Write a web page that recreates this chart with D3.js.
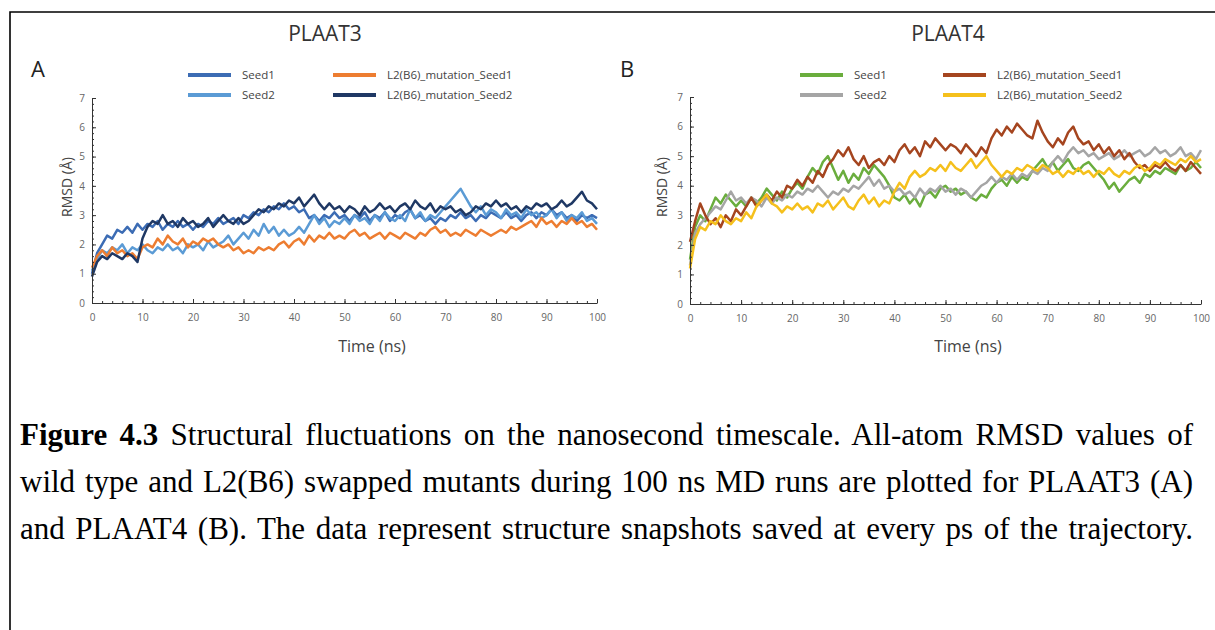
<!DOCTYPE html>
<html>
<head>
<meta charset="utf-8">
<script src="https://cdn.jsdelivr.net/npm/d3@7"></script>
<style>
  html, body { margin: 0; padding: 0; background: #fff; }
  svg { display: block; }
</style>
</head>
<body>
<script>

// Time axis, one sample per ns
const timeNs = d3.range(0, 101);

// PLAAT3 RMSD traces (Å)
const plaat3Seed1 = [
  1.0, 1.7, 2.0, 2.3, 2.2, 2.5, 2.4, 2.6, 2.4, 2.7, 2.5,
  2.7, 2.6, 2.8, 2.5, 2.7, 2.6, 2.8, 2.6, 2.7, 2.5,
  2.7, 2.6, 2.8, 2.7, 2.9, 2.7, 2.8, 2.9, 2.7, 3.0,
  2.9, 3.1, 3.0, 3.2, 3.1, 3.3, 3.2, 3.4, 3.2, 3.3,
  3.1, 3.2, 2.9, 3.0, 2.8, 3.0, 2.9, 3.1, 2.9, 3.0,
  2.8, 3.0, 2.9, 3.1, 2.8, 3.0, 2.9, 3.1, 2.8, 3.0,
  2.9, 3.1, 3.2, 2.9, 3.0, 2.8, 2.9, 2.7, 2.9, 2.8,
  3.0, 2.9, 3.1, 2.9, 3.0, 2.8, 3.0, 2.9, 3.1, 3.0,
  2.9, 3.1, 2.9, 3.0, 2.8, 3.0, 3.1, 2.9, 3.1, 3.0,
  3.2, 3.0, 3.1, 2.9, 3.0, 2.8, 3.0, 2.9, 3.0, 2.9
];
const plaat3Seed2 = [
  1.1, 1.5, 1.8, 1.7, 1.9, 1.8, 2.0, 1.7, 1.9, 1.8, 2.0,
  1.8, 1.7, 1.9, 1.8, 2.0, 1.8, 1.9, 1.7, 2.0, 1.9,
  2.0, 1.8, 2.1, 1.9, 2.0, 2.1, 2.3, 2.0, 2.2, 2.4,
  2.2, 2.5, 2.3, 2.7, 2.4, 2.6, 2.3, 2.5, 2.3, 2.4,
  2.6, 2.4, 2.7, 3.0, 2.7, 2.9, 2.6, 2.8, 2.7, 2.9,
  2.7, 3.0, 2.8, 2.9, 2.7, 3.0, 2.8, 3.1, 2.9, 2.8,
  3.0, 2.8, 3.2, 2.9, 3.1, 2.8, 3.0, 2.9, 3.1, 3.3,
  3.5, 3.7, 3.9, 3.6, 3.3, 3.1, 3.3, 3.0, 3.2, 3.1,
  2.9, 3.2, 3.0, 3.1, 2.9, 3.2, 3.0, 3.1, 2.9, 3.0,
  3.2, 2.9, 3.1, 2.8, 3.0, 2.9, 3.1, 2.8, 2.9, 2.7
];
const plaat3MutSeed1 = [
  1.2, 1.6, 1.8, 1.6, 1.9, 1.7, 1.8, 1.6, 1.7, 1.5, 1.9,
  2.0, 1.9, 2.2, 2.0, 2.3, 2.1, 2.0, 2.2, 1.9, 2.1,
  2.0, 2.2, 2.1, 2.2, 2.0, 1.9, 2.0, 1.8, 1.9, 1.7,
  1.8, 1.7, 1.9, 1.8, 1.9, 1.8, 2.0, 2.1, 1.9, 2.1,
  2.2, 2.0, 2.3, 2.1, 2.3, 2.2, 2.4, 2.2, 2.3, 2.2,
  2.4, 2.5, 2.3, 2.4, 2.2, 2.3, 2.4, 2.2, 2.4, 2.3,
  2.2, 2.4, 2.3, 2.2, 2.4, 2.3, 2.5, 2.6, 2.4, 2.5,
  2.3, 2.4, 2.3, 2.5, 2.4, 2.3, 2.5, 2.4, 2.3, 2.4,
  2.5, 2.4, 2.6, 2.5, 2.6, 2.7, 2.8, 2.6, 2.9, 2.7,
  2.8, 2.6, 2.8, 2.7, 2.9, 2.7, 2.8, 2.6, 2.7, 2.5
];
const plaat3MutSeed2 = [
  0.9, 1.4, 1.6, 1.5, 1.7, 1.6, 1.5, 1.7, 1.6, 1.4, 2.2,
  2.6, 2.8, 2.7, 3.0, 2.7, 2.8, 2.6, 2.9, 2.7, 2.8,
  2.6, 2.7, 2.9, 2.6, 2.8, 3.0, 2.8, 2.7, 2.9, 2.7,
  2.8, 3.0, 3.2, 3.1, 3.3, 3.2, 3.4, 3.3, 3.5, 3.4,
  3.6, 3.3, 3.5, 3.7, 3.4, 3.2, 3.4, 3.2, 3.3, 3.1,
  3.3, 3.2, 3.0, 3.3, 3.1, 3.2, 3.4, 3.2, 3.3, 3.1,
  3.3, 3.4, 3.2, 3.5, 3.3, 3.2, 3.4, 3.1, 3.3, 3.2,
  3.3, 3.1, 3.2, 3.0, 3.1, 3.3, 3.2, 3.4, 3.3, 3.5,
  3.3, 3.4, 3.2, 3.3, 3.1, 3.3, 3.2, 3.4, 3.3, 3.4,
  3.2, 3.3, 3.5, 3.3, 3.4, 3.6, 3.8, 3.5, 3.4, 3.2
];

// PLAAT4 RMSD traces (Å)
const plaat4Seed1 = [
  1.5, 2.6, 3.0, 2.8, 3.2, 3.6, 3.4, 3.7, 3.5, 3.3, 3.5,
  3.3, 3.6, 3.4, 3.6, 3.9, 3.7, 3.5, 3.8, 3.6, 3.9,
  4.1, 3.9, 4.3, 4.6, 4.4, 4.8, 5.0, 4.6, 4.2, 4.5,
  4.1, 4.4, 4.2, 4.6, 4.4, 4.7, 4.5, 4.3, 4.0, 3.6,
  3.5, 3.7, 3.4, 3.6, 3.3, 3.7, 3.8, 3.6, 3.9, 4.0,
  3.8, 3.9, 3.7, 3.8, 3.6, 3.5, 3.7, 3.6, 3.9, 4.1,
  4.2, 4.0, 4.3, 4.1, 4.3, 4.2, 4.5, 4.7, 4.9, 4.6,
  4.8, 4.5, 4.7, 4.9, 4.6, 4.5, 4.7, 4.8, 4.6, 4.4,
  4.2, 3.9, 4.1, 3.8, 4.0, 4.2, 4.3, 4.1, 4.4, 4.3,
  4.5, 4.4, 4.6, 4.5, 4.4, 4.7, 4.5, 4.6, 4.8, 4.6
];
const plaat4Seed2 = [
  1.3, 2.4, 2.7, 2.9, 3.1, 3.3, 3.2, 3.5, 3.8, 3.5, 3.6,
  3.4, 3.6, 3.5, 3.3, 3.6, 3.4, 3.6, 3.5, 3.7, 3.6,
  3.8, 3.7, 3.9, 3.8, 4.0, 3.8, 3.6, 3.8, 3.7, 3.9,
  3.8, 4.0, 3.9, 4.1, 4.3, 4.0, 4.2, 3.9, 4.0, 3.8,
  3.9, 3.7, 3.8, 3.6, 3.9, 3.7, 3.9, 3.8, 4.0, 3.8,
  3.9, 3.7, 3.9, 3.8, 3.6, 3.8, 4.0, 4.1, 4.3, 4.1,
  4.3, 4.2, 4.4, 4.2, 4.4, 4.3, 4.5, 4.4, 4.6, 4.5,
  4.8, 5.0, 4.8, 5.1, 5.3, 5.1, 5.2, 5.0, 5.1, 4.9,
  5.0, 5.1, 4.9, 5.0, 5.2, 5.0, 5.1, 5.2, 5.0, 5.1,
  5.3, 5.1, 5.2, 5.0, 5.1, 5.3, 5.0, 5.1, 4.9, 5.2
];
const plaat4MutSeed1 = [
  2.1, 2.8, 3.4, 3.0, 2.7, 2.9, 2.6, 3.0, 2.8, 3.2, 3.0,
  3.3, 3.6, 3.3, 3.5, 3.7, 3.5, 3.8, 3.6, 4.0, 3.9,
  4.2, 4.0, 4.3, 4.1, 4.5, 4.3, 4.7, 4.9, 5.2, 5.0,
  5.3, 4.9, 4.7, 5.0, 4.6, 4.8, 4.9, 4.7, 5.0, 4.8,
  5.2, 5.4, 5.1, 5.3, 5.0, 5.5, 5.3, 5.6, 5.4, 5.2,
  5.4, 5.3, 5.1, 5.4, 5.2, 5.0, 5.3, 5.1, 5.6, 5.9,
  5.7, 6.0, 5.8, 6.1, 5.9, 5.7, 5.6, 6.2, 5.8, 5.5,
  5.3, 5.6, 5.4, 5.8, 6.0, 5.6, 5.4, 5.5, 5.2, 5.4,
  5.1, 5.3, 5.0, 5.2, 4.9, 5.1, 4.8, 4.6, 4.7, 4.5,
  4.7, 4.6, 4.8, 4.6, 4.5, 4.7, 4.5, 4.8, 4.6, 4.4
];
const plaat4MutSeed2 = [
  1.2, 2.2, 2.6, 2.5, 2.8, 2.7, 3.0, 2.8, 2.7, 2.9, 2.8,
  3.1, 2.9, 3.3, 3.5, 3.7, 3.4, 3.3, 3.1, 3.3, 3.2,
  3.4, 3.2, 3.3, 3.1, 3.4, 3.3, 3.5, 3.2, 3.4, 3.6,
  3.3, 3.2, 3.5, 3.7, 3.4, 3.6, 3.3, 3.5, 3.4, 3.8,
  4.1, 3.9, 4.3, 4.5, 4.3, 4.4, 4.6, 4.5, 4.7, 4.5,
  4.8, 4.6, 4.5, 4.7, 4.9, 4.6, 4.8, 5.0, 4.7, 4.5,
  4.3, 4.5, 4.4, 4.6, 4.5, 4.7, 4.6, 4.5, 4.7, 4.6,
  4.4, 4.5, 4.3, 4.5, 4.4, 4.6, 4.4, 4.5, 4.3, 4.5,
  4.4, 4.6, 4.4, 4.3, 4.5, 4.4, 4.6, 4.7, 4.5, 4.6,
  4.8, 4.7, 4.9, 4.8, 4.7, 4.9, 4.8, 5.0, 4.8, 4.9
];

// Labels and ticks
const seriesNames = ["Seed1", "Seed2", "L2(B6)_mutation_Seed1", "L2(B6)_mutation_Seed2"];
const xTicks = [0, 10, 20, 30, 40, 50, 60, 70, 80, 90, 100];
const yTicks = [0, 1, 2, 3, 4, 5, 6, 7];
const captionLines = [
  ["Figure 4.3", " Structural fluctuations on the nanosecond timescale. All-atom RMSD values of"],
  ["", "wild type and L2(B6) swapped mutants during 100 ns MD runs are plotted for PLAAT3 (A)"],
  ["", "and PLAAT4 (B). The data represent structure snapshots saved at every ps of the trajectory."]
];

const width = 1215;
const height = 630;
const font = "'Open Sans', sans-serif";

const panels = [
  {
    title: "PLAAT3", letter: "A",
    series: [plaat3Seed1, plaat3Seed2, plaat3MutSeed1, plaat3MutSeed2],
    colors: ["#3c6cb4", "#5b9bd5", "#ed7d31", "#1f3864"],
    left: 92, right: 597, top: 98, bottom: 303,
    titleX: 325, letterX: 31, yLabelX: 67, xLabelX: 372,
    legendX: [188, 333]
  },
  {
    title: "PLAAT4", letter: "B",
    series: [plaat4Seed1, plaat4Seed2, plaat4MutSeed1, plaat4MutSeed2],
    colors: ["#6aad3d", "#a5a5a5", "#a5451f", "#f5c01c"],
    left: 690, right: 1201, top: 97, bottom: 304,
    titleX: 948, letterX: 620, yLabelX: 662, xLabelX: 968,
    legendX: [800, 943]
  }
];

const svg = d3.select("body").append("svg")
  .attr("width", width)
  .attr("height", height)
  .attr("viewBox", [0, 0, width, height]);

// Page frame (top and left rules)
svg.append("path")
  .attr("d", `M10,${height} L10,12 L${width},12`)
  .attr("fill", "none")
  .attr("stroke", "#000")
  .attr("stroke-width", 1.6);

panels.forEach(p => {

  const x = d3.scaleLinear().domain([0, 100]).range([p.left, p.right]);
  const y = d3.scaleLinear().domain([0, 7]).range([p.bottom, p.top]);
  const g = svg.append("g");

  // Traces
  const line = d3.line()
    .x((d, i) => x(timeNs[i]))
    .y(d => y(d));

  g.selectAll("path.trace")
    .data(p.series)
    .join("path")
    .attr("class", "trace")
    .attr("fill", "none")
    .attr("stroke", (d, i) => p.colors[i])
    .attr("stroke-width", 2.5)
    .attr("stroke-linejoin", "round")
    .attr("d", line);

  // Minor ticks, then major ticks with labels (ticks point inwards)
  g.append("g")
    .attr("transform", `translate(0,${p.bottom})`)
    .call(d3.axisBottom(x).tickValues(d3.range(0, 101, 2)).tickSize(-2).tickFormat(""))
    .call(a => a.select(".domain").remove());
  g.append("g")
    .attr("transform", `translate(${p.left},0)`)
    .call(d3.axisLeft(y).tickValues(d3.range(0, 7.01, 0.2)).tickSize(-2).tickFormat(""))
    .call(a => a.select(".domain").remove());

  const xAxis = g.append("g")
    .attr("transform", `translate(0,${p.bottom})`)
    .call(d3.axisBottom(x).tickValues(xTicks).tickSize(-4).tickSizeOuter(0).tickPadding(11));
  const yAxis = g.append("g")
    .attr("transform", `translate(${p.left},0)`)
    .call(d3.axisLeft(y).tickValues(yTicks).tickFormat(d3.format("d"))
      .tickSize(-4).tickSizeOuter(0).tickPadding(7));

  [xAxis, yAxis].forEach(a => {
    a.select(".domain").attr("stroke", "#333");
    a.selectAll("text")
      .attr("fill", "#666")
      .style("font-family", font)
      .style("font-size", "10px");
  });
  g.selectAll(".tick line").attr("stroke", "#333");

  // Axis titles
  g.append("text")
    .attr("x", p.xLabelX).attr("y", 352)
    .attr("text-anchor", "middle")
    .attr("fill", "#444")
    .style("font-family", font).style("font-size", "16px")
    .text("Time (ns)");
  g.append("text")
    .attr("transform", `translate(${p.yLabelX + 5},187) rotate(-90)`)
    .attr("text-anchor", "middle")
    .attr("fill", "#444")
    .style("font-family", font).style("font-size", "14px")
    .text("RMSD (Å)");

  // Panel title and letter
  g.append("text")
    .attr("x", p.titleX).attr("y", 41)
    .attr("text-anchor", "middle")
    .attr("fill", "#333")
    .style("font-family", font).style("font-size", "21px")
    .text(p.title);
  g.append("text")
    .attr("x", p.letterX).attr("y", 77)
    .attr("fill", "#222")
    .style("font-family", font).style("font-size", "22px")
    .text(p.letter);

  // Legend: two columns, two rows
  const legend = g.selectAll("g.legend")
    .data(seriesNames)
    .join("g")
    .attr("class", "legend")
    .attr("transform", (d, i) => `translate(${p.legendX[Math.floor(i / 2)]},${i % 2 === 0 ? 75 : 95})`);
  legend.append("line")
    .attr("x1", 0).attr("x2", 43)
    .attr("stroke", (d, i) => p.colors[i])
    .attr("stroke-width", 4);
  legend.append("text")
    .attr("x", 54).attr("y", 4)
    .attr("fill", "#444")
    .style("font-family", font).style("font-size", "11.5px")
    .text(d => d);
});

// Caption, justified to the text block through the word gaps
const captionWidth = 1173;
const caption = svg.append("g");
captionLines.forEach((parts, i) => {
  const t = caption.append("text")
    .attr("x", 20)
    .attr("y", 445 + i * 47)
    .attr("fill", "#000")
    .style("font-family", "'Liberation Serif', 'Times New Roman', serif")
    .style("font-size", "31px");
  if (parts[0]) t.append("tspan").attr("font-weight", "bold").text(parts[0]);
  t.append("tspan").text(parts[1]);
  const natural = t.node().getComputedTextLength();
  const gaps = (parts[0] + parts[1]).split(" ").length - 1;
  t.style("word-spacing", `${(captionWidth - natural) / gaps}px`);
});

</script>
</body>
</html>
